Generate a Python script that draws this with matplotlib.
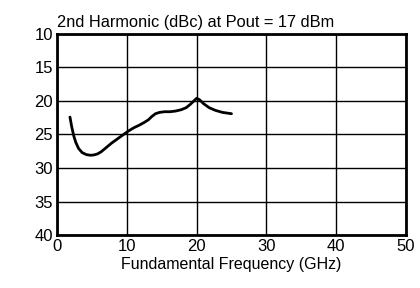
import matplotlib
matplotlib.use('Agg')
import matplotlib.pyplot as plt

# 2nd harmonic vs fundamental frequency
freq_ghz = [1.86, 2.1, 2.4, 2.7, 3.1, 3.6, 4.2, 4.8, 5.3, 5.8, 6.3, 7.0, 7.8, 8.6,
            9.4, 10.2, 11.0, 11.8, 12.5, 13.1, 13.6, 14.1, 14.7, 15.4, 16.2, 17.0,
            17.8, 18.5, 19.1, 19.6, 20.0, 20.4, 21.0, 21.8, 22.7, 23.7, 25.0]
harm_dbc = [22.4, 23.8, 25.2, 26.2, 27.1, 27.7, 28.0, 28.1, 28.05, 27.9, 27.6, 27.0,
            26.3, 25.7, 25.1, 24.5, 24.0, 23.6, 23.2, 22.8, 22.3, 21.9, 21.7, 21.6,
            21.6, 21.5, 21.3, 21.0, 20.5, 20.0, 19.6, 19.8, 20.4, 21.0, 21.4, 21.7,
            21.9]

x_ticks = [0, 10, 20, 30, 40, 50]
y_ticks = [10, 15, 20, 25, 30, 35, 40]

plt.rcParams['font.family'] = ['Liberation Sans', 'DejaVu Sans']

fig = plt.figure(figsize=(4.2, 2.88), dpi=100)
ax = fig.add_axes([0.1357, 0.184, 0.831, 0.698])

ax.plot(freq_ghz, harm_dbc, color='black', lw=2.0,
        solid_capstyle='round', solid_joinstyle='round')

ax.set_xlim(0, 50)
ax.set_ylim(40, 10)
ax.set_xticks(x_ticks)
ax.set_yticks(y_ticks)
ax.grid(True, color='black', lw=1.0)
ax.tick_params(length=0, pad=3, labelsize=12)
for s in ax.spines.values():
    s.set_linewidth(2)

ax.set_xlabel('Fundamental Frequency (GHz)', fontsize=11.5, labelpad=2)
ax.text(0.0, 1.02, '2nd Harmonic (dBc) at Pout = 17 dBm', transform=ax.transAxes,
        fontsize=11.8, ha='left', va='bottom')

fig.savefig('out.png', dpi=100)
